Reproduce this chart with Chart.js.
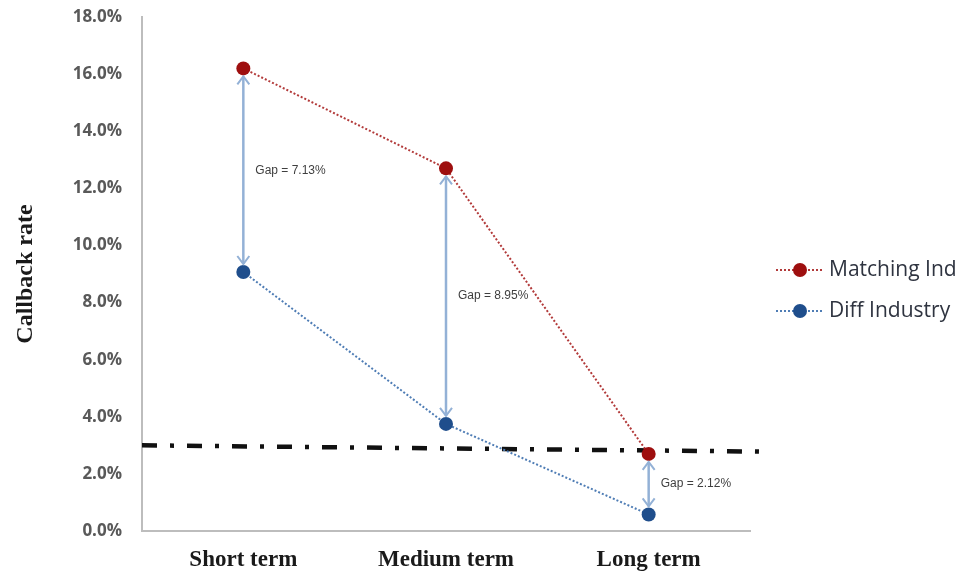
<!DOCTYPE html>
<html>
<head>
<meta charset="utf-8">
<script src="https://cdn.jsdelivr.net/npm/chart.js@4.4.1/dist/chart.umd.min.js"></script>
<style>
  html, body { margin: 0; padding: 0; background: #ffffff; }
  #wrap { width: 963px; height: 574px; position: relative; }
</style>
</head>
<body>
<div id="wrap"><canvas id="c" width="963" height="574"></canvas></div>
<script>
// Callback rates (%) by length of unemployment spell
const categories = ['Short term', 'Medium term', 'Long term'];
const matchingInd = [16.20, 12.70, 2.70];
const diffIndustry = [9.07, 3.75, 0.58];
const seriesNames = ['Matching Ind', 'Diff Industry'];
// Reference level drawn as a dash-dot line (start and end value, %)
const referenceLevel = [3.0, 2.78];
const yTicks = { min: 0, max: 18, step: 2 };

const RED_PT = '#9e0f0f', RED_LN = '#b23a3a';
const BLUE_PT = '#1f4e8c', BLUE_LN = '#4f7db5';
const ARROW = '#93b1d6';

// dash-dot reference line, drawn below the series
const referencePlugin = {
  id: 'referenceLine',
  beforeDatasetsDraw(chart) {
    const { ctx, chartArea, scales: { y } } = chart;
    const x0 = chartArea.left, x1 = chartArea.right + 13;
    ctx.save();
    ctx.strokeStyle = '#111111';
    ctx.lineWidth = 4.5;
    ctx.lineCap = 'butt';
    ctx.setLineDash([15, 13, 4, 13]);
    ctx.beginPath();
    ctx.moveTo(x0, y.getPixelForValue(referenceLevel[0]));
    ctx.lineTo(x1, y.getPixelForValue(referenceLevel[1]));
    ctx.stroke();
    ctx.restore();
  }
};

// double-headed gap arrows between the two series with their labels
const gapPlugin = {
  id: 'gapArrows',
  afterDatasetsDraw(chart) {
    const { ctx, scales: { x, y } } = chart;
    ctx.save();
    categories.forEach((c, i) => {
      const px = x.getPixelForValue(i);
      const yTop = y.getPixelForValue(matchingInd[i]) + 8;
      const yBot = y.getPixelForValue(diffIndustry[i]) - 8;
      ctx.strokeStyle = ARROW;
      ctx.lineWidth = 2.5;
      ctx.setLineDash([]);
      ctx.beginPath();
      ctx.moveTo(px, yTop); ctx.lineTo(px, yBot);
      ctx.stroke();
      ctx.lineWidth = 2;
      ctx.beginPath();
      ctx.moveTo(px - 6, yTop + 8); ctx.lineTo(px, yTop); ctx.lineTo(px + 6, yTop + 8);
      ctx.moveTo(px - 6, yBot - 8); ctx.lineTo(px, yBot); ctx.lineTo(px + 6, yBot - 8);
      ctx.stroke();
      const gap = (matchingInd[i] - diffIndustry[i]).toFixed(2);
      ctx.fillStyle = '#3f3f3f';
      ctx.font = '12px "Liberation Sans Narrow", "Liberation Sans", sans-serif';
      ctx.textAlign = 'left';
      ctx.textBaseline = 'middle';
      ctx.fillText('Gap = ' + gap + '%', px + 12, (yTop + yBot) / 2);
    });
    ctx.restore();
  }
};

// legend on the right: dotted line with a marker, then the series name
const legendPlugin = {
  id: 'sideLegend',
  afterDraw(chart) {
    const { ctx } = chart;
    const items = [
      { name: seriesNames[0], ln: RED_LN, pt: RED_PT, y: 270 },
      { name: seriesNames[1], ln: BLUE_LN, pt: BLUE_PT, y: 311 }
    ];
    ctx.save();
    items.forEach(it => {
      ctx.strokeStyle = it.ln;
      ctx.lineWidth = 2;
      ctx.setLineDash([2, 2]);
      ctx.beginPath();
      ctx.moveTo(776, it.y); ctx.lineTo(824, it.y);
      ctx.stroke();
      ctx.setLineDash([]);
      ctx.fillStyle = it.pt;
      ctx.beginPath();
      ctx.arc(800, it.y, 7, 0, Math.PI * 2);
      ctx.fill();
      ctx.fillStyle = '#2f3440';
      ctx.font = '21px "Open Sans", sans-serif';
      ctx.textAlign = 'left';
      ctx.textBaseline = 'middle';
      ctx.fillText(it.name, 829, it.y);
    });
    ctx.restore();
  }
};

new Chart(document.getElementById('c'), {
  type: 'line',
  data: {
    labels: categories,
    datasets: [
      {
        label: seriesNames[0],
        data: matchingInd,
        borderColor: RED_LN,
        borderWidth: 2,
        borderDash: [2, 2],
        pointRadius: 7,
        pointBackgroundColor: RED_PT,
        pointBorderWidth: 0,
        tension: 0,
        fill: false
      },
      {
        label: seriesNames[1],
        data: diffIndustry,
        borderColor: BLUE_LN,
        borderWidth: 2,
        borderDash: [2, 2],
        pointRadius: 7,
        pointBackgroundColor: BLUE_PT,
        pointBorderWidth: 0,
        tension: 0,
        fill: false
      }
    ]
  },
  options: {
    responsive: false,
    animation: false,
    layout: { padding: { top: 17, right: 213, bottom: 0, left: 0 } },
    plugins: {
      legend: { display: false },
      tooltip: { enabled: false }
    },
    scales: {
      x: {
        offset: true,
        grid: { display: false, drawTicks: false },
        border: { display: true, color: '#bdbdbd', width: 2 },
        ticks: {
          color: '#1a1a1a',
          padding: 15,
          font: { family: '"Liberation Serif", serif', size: 23, weight: 'bold' }
        },
        afterFit(s) { s.height = 43; }
      },
      y: {
        min: yTicks.min,
        max: yTicks.max,
        grid: { display: false, drawTicks: false },
        border: { display: true, color: '#bdbdbd', width: 2 },
        ticks: {
          stepSize: yTicks.step,
          padding: 20,
          color: '#595959',
          font: { family: '"Open Sans", sans-serif', size: 17, weight: 'bold' },
          callback: v => v.toFixed(1) + '%'
        },
        title: {
          display: true,
          text: 'Callback rate',
          color: '#1a1a1a',
          padding: { top: 11, bottom: 0 },
          font: { family: '"Liberation Serif", serif', size: 24, weight: 'bold' }
        },
        afterFit(s) { s.width = 142; s.paddingTop = 0; s.paddingBottom = 0; }
      }
    }
  },
  plugins: [referencePlugin, gapPlugin, legendPlugin]
});
</script>
</body>
</html>
